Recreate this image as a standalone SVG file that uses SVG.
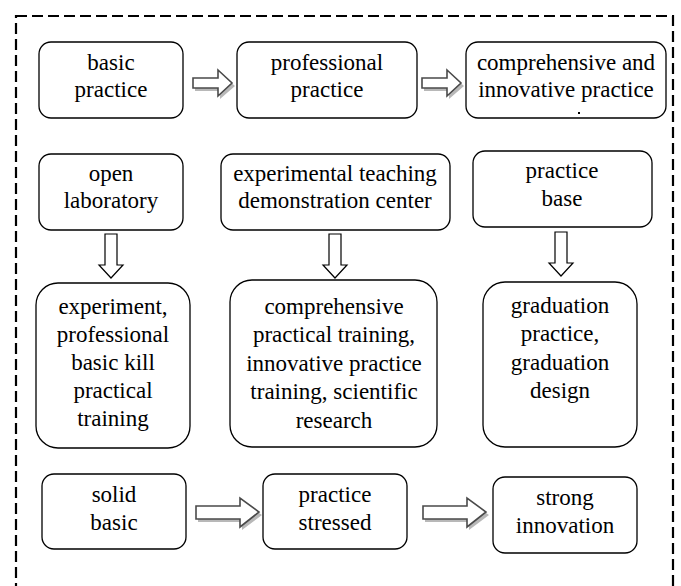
<svg xmlns="http://www.w3.org/2000/svg" width="681" height="586" viewBox="0 0 681 586" font-family="Liberation Serif, DejaVu Serif, serif">
<style>
.box{fill:#fff;stroke:#000;stroke-width:1.3}
text{font-size:23px;fill:#000;text-anchor:middle}
.arr{fill:#fff;stroke:#4a4a4a;stroke-width:1.6}
.sh{fill:#b8b8b8;stroke:none}
.darr{fill:#fff;stroke:#000;stroke-width:1.2}
</style>
<rect x="0" y="0" width="681" height="586" fill="#fff"/>
<rect x="16" y="16" width="657" height="600" fill="none" stroke="#000" stroke-width="2.2" stroke-dasharray="11,5"/>
<g id="connectors">
  <g>
    <path class="sh" d="M195,81 H220 V73 L235,86 L220,99 V91 H195 Z"/>
    <path class="arr" d="M193,78 H218 V70 L232,83 L218,96 V88 H193 Z"/>
  </g>
  <g>
    <path class="sh" d="M424,81 H449 V73 L464,86 L449,99 V91 H424 Z"/>
    <path class="arr" d="M422,78 H447 V70 L461,83 L447,96 V88 H422 Z"/>
  </g>
  <path class="darr" d="M105,234 H117 V265 H123 L111,278 L99,265 H105 Z"/>
  <path class="darr" d="M329,234 H341 V265 H347 L335,278 L323,265 H329 Z"/>
  <path class="darr" d="M555,232 H567 V263 H573 L561,276 L549,263 H555 Z"/>
  <g>
    <path class="sh" d="M198,509 H242 V501 L262,515 L242,530 V522 H198 Z"/>
    <path class="arr" d="M196,506 H240 V498 L259,512 L240,527 V519 H196 Z"/>
  </g>
  <g>
    <path class="sh" d="M425,509 H469 V501 L489,515 L469,530 V522 H425 Z"/>
    <path class="arr" d="M423,506 H467 V498 L486,512 L467,527 V519 H423 Z"/>
  </g>
</g>
<g id="basic-practice">
  <rect class="box" x="39" y="42" width="144" height="76" rx="12"/>
  <text x="111" y="70">basic</text>
  <text x="111" y="97">practice</text>
</g>
<g id="professional-practice">
  <rect class="box" x="237" y="42" width="180" height="76" rx="12"/>
  <text x="327" y="70">professional</text>
  <text x="327" y="97">practice</text>
</g>
<g id="comprehensive-innovative">
  <rect class="box" x="466" y="42" width="200" height="76" rx="12"/>
  <text x="566" y="70">comprehensive and</text>
  <text x="566" y="97">innovative practice</text>
  <rect x="578" y="112" width="2" height="2" fill="#000"/>
</g>
<g id="open-laboratory">
  <rect class="box" x="39" y="154" width="144" height="76" rx="12"/>
  <text x="111" y="181">open</text>
  <text x="111" y="208">laboratory</text>
</g>
<g id="demo-center">
  <rect class="box" x="221" y="154" width="229" height="76" rx="12"/>
  <text x="335" y="181">experimental teaching</text>
  <text x="335" y="208">demonstration center</text>
</g>
<g id="practice-base">
  <rect class="box" x="473" y="151" width="179" height="76" rx="12"/>
  <text x="562" y="178">practice</text>
  <text x="562" y="206">base</text>
</g>
<g id="experiment">
  <rect class="box" x="36" y="283" width="154" height="165" rx="22"/>
  <text x="113" y="314">experiment,</text>
  <text x="113" y="342">professional</text>
  <text x="113" y="370">basic kill</text>
  <text x="113" y="398">practical</text>
  <text x="113" y="426">training</text>
</g>
<g id="comprehensive-training">
  <rect class="box" x="230" y="280" width="207" height="167" rx="22"/>
  <text x="334" y="314">comprehensive</text>
  <text x="334" y="342">practical training,</text>
  <text x="334" y="371">innovative practice</text>
  <text x="334" y="399">training, scientific</text>
  <text x="334" y="428">research</text>
</g>
<g id="graduation">
  <rect class="box" x="483" y="282" width="154" height="165" rx="22"/>
  <text x="560" y="313">graduation</text>
  <text x="560" y="341">practice,</text>
  <text x="560" y="370">graduation</text>
  <text x="560" y="398">design</text>
</g>
<g id="solid-basic">
  <rect class="box" x="42" y="474" width="144" height="75" rx="12"/>
  <text x="114" y="502">solid</text>
  <text x="114" y="530">basic</text>
</g>
<g id="practice-stressed">
  <rect class="box" x="263" y="474" width="144" height="75" rx="12"/>
  <text x="335" y="502">practice</text>
  <text x="335" y="530">stressed</text>
</g>
<g id="strong-innovation">
  <rect class="box" x="493" y="477" width="144" height="76" rx="12"/>
  <text x="565" y="505">strong</text>
  <text x="565" y="533">innovation</text>
</g>
</svg>
